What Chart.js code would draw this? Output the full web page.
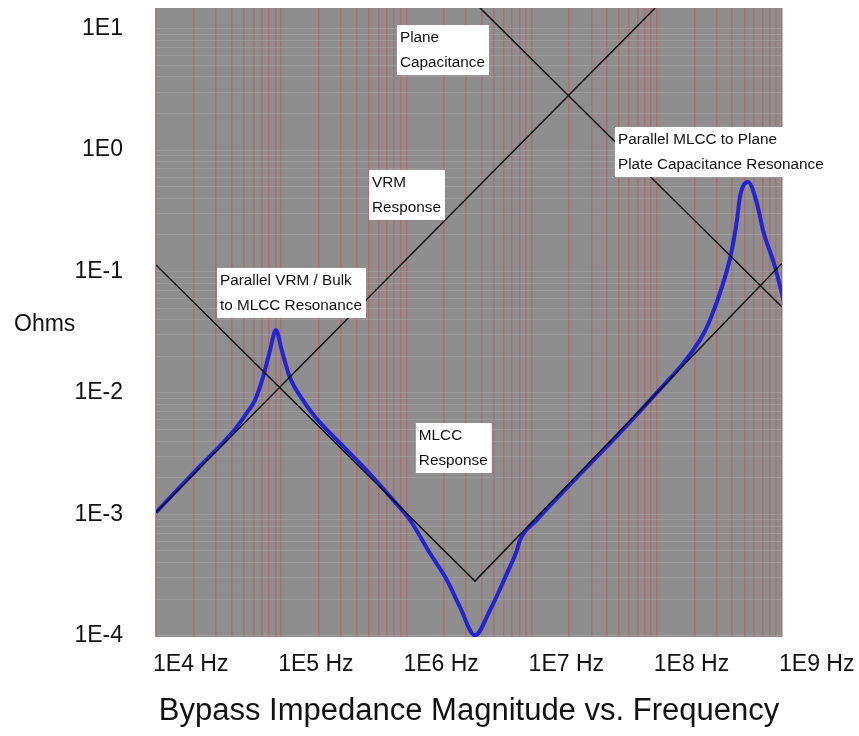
<!DOCTYPE html>
<html>
<head>
<meta charset="utf-8">
<script src="https://cdn.jsdelivr.net/npm/chart.js@4.4.0/dist/chart.umd.min.js"></script>
<style>
  html, body { margin: 0; padding: 0; background: #fff; }
</style>
</head>
<body>
<canvas id="chart" width="859" height="736"></canvas>
<script>
  // axis decades and the minor steps used for grid lines
  const freqTicks = [1e4, 1e5, 1e6, 1e7, 1e8, 1e9];
  const ohmTicks = [1e-4, 1e-3, 1e-2, 1e-1, 1, 10];
  const minorSteps = [1, 2, 3, 4, 5, 6, 7, 8, 9];

  // total bypass impedance (blue curve)
  const totalFreq = [
    1e4, 2.24e4, 4.2e4, 5.4e4, 6.18e4, 7.16e4, 8.15e4, 9.08e4, 1.01e5, 1.17e5, 1.49e5,
    1.9e5, 2.6e5, 5.12e5, 8e5, 1.07e6, 1.54e6, 2.11e6, 2.68e6, 3.53e6, 4.66e6, 6.37e6,
    7.64e6, 8.07e6, 1.1e7, 1.69e7, 8.83e7, 2.21e8, 2.66e8, 3.85e8, 4.37e8, 4.61e8,
    5.35e8, 6.3e8, 7.05e8, 8.8e8, 1.05e9
  ];
  const totalOhms = [
    1.04e-3, 2.49e-3, 4.9e-3, 7.0e-3, 8.73e-3, 0.0135, 0.0225, 0.033, 0.0225, 0.0135, 8.73e-3,
    6.2e-3, 4.4e-3, 2.15e-3, 1.28e-3, 8.97e-4, 4.8e-4, 2.87e-4, 1.72e-4, 1.01e-4, 1.63e-4, 3.28e-4,
    5.07e-4, 6.14e-4, 8.97e-4, 1.44e-3, 8.73e-3, 0.0272, 0.0398, 0.129, 0.265, 0.41,
    0.546, 0.366, 0.219, 0.109, 0.053
  ];

  // asymptotes (black lines)
  const vrmFreq = [1e4, 9.7e7];
  const vrmOhms = [1.04e-3, 14.8];
  const mlccFreq = [1e4, 3.53e6, 1e9];
  const mlccOhms = [0.113, 2.82e-4, 0.117];
  const planeFreq = [3.87e6, 1e9];
  const planeOhms = [14.8, 0.051];

  // annotation boxes, anchored at their top-left corner
  const noteText = [
    ['Plane', 'Capacitance'],
    ['VRM', 'Response'],
    ['Parallel VRM / Bulk', 'to MLCC Resonance'],
    ['MLCC', 'Response'],
    ['Parallel MLCC to Plane', 'Plate Capacitance Resonance']
  ];
  const noteFreq = [8.41e5, 5.03e5, 3.07e4, 1.19e6, 4.63e7];
  const noteOhms = [10.7, 0.686, 0.107, 5.65e-3, 1.55];

  const FONT = '"Liberation Sans", Arial, sans-serif';
  const yMin = Math.pow(10, -4.01);
  const yMax = Math.pow(10, 1.17);

  const pts = (xs, ys) => xs.map((x, i) => ({ x, y: ys[i] }));
  const gridValues = (decades, lo, hi) =>
    decades.flatMap((d) => minorSteps.map((m) => m * d)).filter((v) => v >= lo && v <= hi);
  const isDecade = (v) => Math.abs(Math.log10(v) - Math.round(Math.log10(v))) < 1e-9;

  const plotBackground = {
    id: 'plotBackground',
    beforeDraw(chart) {
      const { ctx, chartArea: a } = chart;
      ctx.save();
      ctx.fillStyle = '#8e8e8e';
      ctx.fillRect(a.left, a.top, a.right - a.left, a.bottom - a.top);
      ctx.restore();
    },
    afterDraw(chart) {
      const { ctx } = chart;
      ctx.save();
      ctx.font = `23px ${FONT}`;
      ctx.fillStyle = '#111';
      ctx.textBaseline = 'middle';
      ctx.fillText('Ohms', 14, 325);
      ctx.restore();
    }
  };

  const noteBoxes = {
    id: 'noteBoxes',
    afterDatasetsDraw(chart) {
      const { ctx, scales: { x, y } } = chart;
      ctx.save();
      ctx.font = `15.3px ${FONT}`;
      ctx.textBaseline = 'middle';
      noteText.forEach((lines, i) => {
        const left = x.getPixelForValue(noteFreq[i]);
        const top = y.getPixelForValue(noteOhms[i]);
        const w = Math.max(...lines.map((l) => ctx.measureText(l).width)) + 7;
        ctx.fillStyle = '#fff';
        ctx.fillRect(left, top, w, lines.length * 25);
        ctx.fillStyle = '#111';
        lines.forEach((l, j) => ctx.fillText(l, left + 3, top + 13 + j * 25));
      });
      ctx.restore();
    }
  };

  const blackLine = (data) => ({
    data,
    borderColor: '#111',
    borderWidth: 1.5,
    pointRadius: 0,
    tension: 0
  });

  // keep the tick padding from pushing the plot area in
  const noScalePadding = (s) => {
    s.paddingTop = 0;
    s.paddingBottom = 0;
    s.paddingLeft = 0;
    s.paddingRight = 0;
  };

  new Chart(document.getElementById('chart'), {
    type: 'line',
    data: {
      datasets: [
        blackLine(pts(vrmFreq, vrmOhms)),
        blackLine(pts(mlccFreq, mlccOhms)),
        blackLine(pts(planeFreq, planeOhms)),
        {
          data: pts(totalFreq, totalOhms),
          borderColor: '#2424d4',
          borderWidth: 4,
          pointRadius: 0,
          cubicInterpolationMode: 'monotone'
        }
      ]
    },
    options: {
      responsive: false,
      animation: false,
      devicePixelRatio: 1,
      layout: { autoPadding: false, padding: { left: 0, top: 8, right: 77, bottom: 0 } },
      plugins: { legend: { display: false }, tooltip: { enabled: false } },
      scales: {
        x: {
          type: 'logarithmic',
          min: 1e4,
          max: 1e9,
          afterBuildTicks: (s) => { s.ticks = gridValues(freqTicks, 1e4, 1e9).map((value) => ({ value })); },
          afterFit: (s) => { s.height = 99; noScalePadding(s); },
          border: { display: false },
          grid: { color: 'rgba(178, 104, 108, 0.85)', lineWidth: 1.6, drawTicks: false },
          ticks: {
            autoSkip: false,
            maxRotation: 0,
            align: 'start',
            labelOffset: -3,
            padding: 14,
            color: '#111',
            font: { family: FONT, size: 23 },
            callback: (v) => (isDecade(v) ? `1E${Math.round(Math.log10(v))} Hz` : '')
          },
          title: {
            display: true,
            text: 'Bypass Impedance Magnitude vs. Frequency',
            color: '#111',
            font: { family: FONT, size: 31 },
            padding: { top: 0, bottom: 6 }
          }
        },
        y: {
          type: 'logarithmic',
          min: yMin,
          max: yMax,
          afterBuildTicks: (s) => { s.ticks = gridValues(ohmTicks, yMin, yMax).map((value) => ({ value })); },
          afterFit: (s) => { s.width = 156; noScalePadding(s); },
          border: { display: false },
          grid: { color: 'rgba(170, 170, 170, 0.45)', lineWidth: 1, drawTicks: false },
          ticks: {
            autoSkip: false,
            padding: 33,
            color: '#111',
            font: { family: FONT, size: 23 },
            callback: (v) => (isDecade(v) ? `1E${Math.round(Math.log10(v))}` : '')
          }
        }
      }
    },
    plugins: [plotBackground, noteBoxes]
  });
</script>
</body>
</html>
